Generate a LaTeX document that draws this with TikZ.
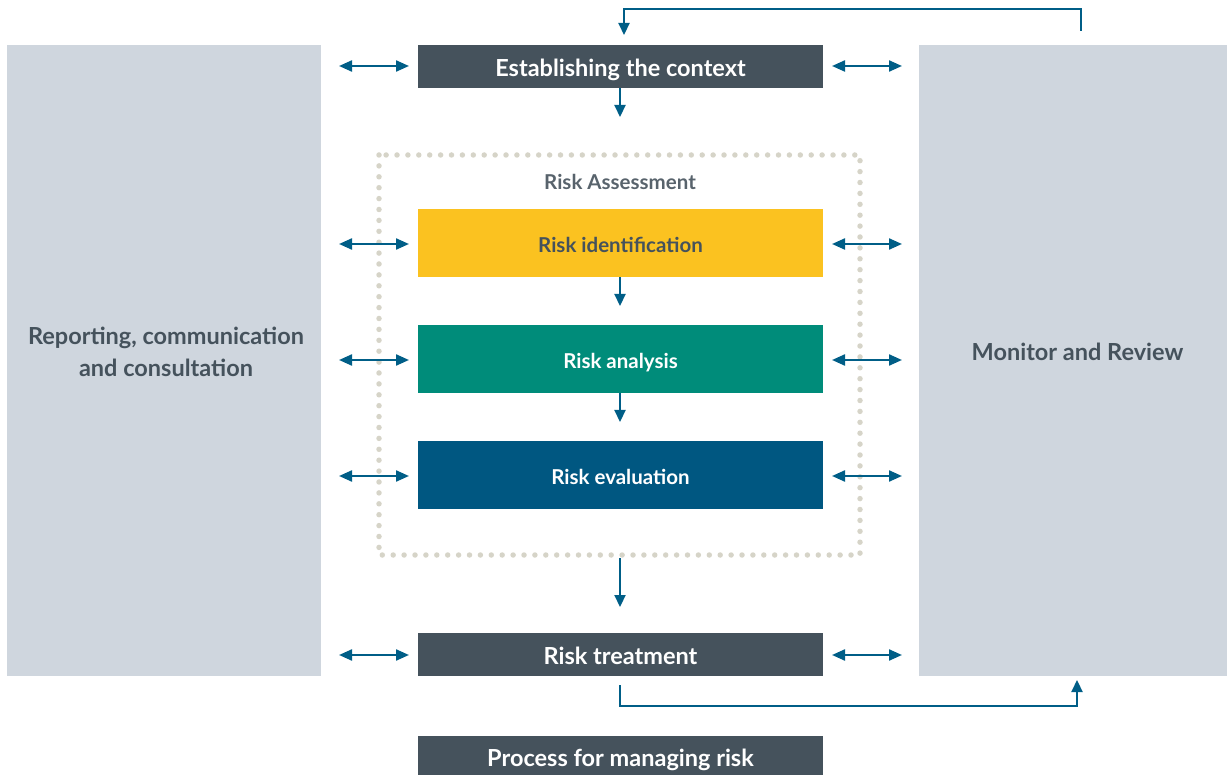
\documentclass[tikz,border=0pt]{standalone}
\usepackage{fontspec}
\setmainfont{Lato}
\usetikzlibrary{arrows.meta}
\definecolor{panel}{HTML}{CFD6DE}
\definecolor{darkbox}{HTML}{45525C}
\definecolor{yel}{HTML}{FBC220}
\definecolor{teal}{HTML}{008C7A}
\definecolor{navy}{HTML}{005781}
\definecolor{arr}{HTML}{005E87}
\definecolor{dotc}{HTML}{D6D4C8}
\definecolor{txtgray}{HTML}{45525C}
\tikzset{
  box/.style={minimum width=405pt, inner sep=0pt, text height=20pt, text depth=0pt, font=\fontsize{23.5}{26}\selectfont\bfseries, text=white},
  ibox/.style={box, minimum height=68pt, anchor=north, text height=18.5pt, font=\fontsize{20.5}{23}\selectfont\bfseries},
  panelbox/.style={fill=panel, draw=none, inner sep=0pt},
  sidetext/.style={font=\fontsize{23.5}{32}\selectfont\bfseries, text=txtgray, align=center},
  con/.style={draw=arr, line width=2.2pt, -{Triangle[length=12pt,width=11pt]}},
  dcon/.style={draw=arr, line width=2.2pt, {Triangle[length=13pt,width=11pt]}-{Triangle[length=13pt,width=11pt]}},
}
\begin{document}
\begin{tikzpicture}[x=1pt,y=-1pt]
\useasboundingbox (0,0) rectangle (1227,775);
% panels
\node[panelbox, minimum width=314pt, minimum height=631pt, anchor=north west] (left) at (7,45) {};
\node[panelbox, minimum width=308pt, minimum height=631pt, anchor=north west] (right) at (919,45) {};
\node[sidetext] (lefttxt) at (166,352) {Reporting, communication\\and consultation};
\node[sidetext] (righttxt) at (1077.5,352) {Monitor and Review};
% dotted frame
\draw[dotc, line width=5.5pt, line cap=round, dash pattern=on 0pt off 10.9pt] (379,155) rectangle (860,555);
\node[font=\fontsize{20.5}{22}\selectfont\bfseries, text=txtgray!90] (ra) at (620,182) {Risk Assessment};
% boxes
\node[box, fill=darkbox, minimum height=43pt, anchor=north] (ctx) at (620.5,45) {Establishing the context};
\node[ibox, fill=yel, text=txtgray] (ident) at (620.5,209) {Risk identification};
\node[ibox, fill=teal] (anal) at (620.5,325) {Risk analysis};
\node[ibox, fill=navy] (eval) at (620.5,441) {Risk evaluation};
\node[box, fill=darkbox, minimum height=43pt, anchor=north] (treat) at (620.5,633) {Risk treatment};
\node[box, fill=darkbox, minimum height=40pt, anchor=north] (proc) at (620.5,736) {Process for managing risk};
% vertical arrows
\coordinate (a1) at (620,117);
\coordinate (a2) at (620,306);
\coordinate (a3) at (620,422);
\coordinate (a4s) at (620,558);
\coordinate (a4e) at (620,607);
\draw[con] (ctx.south -| a1) -- (a1);
\draw[con] (ident.south -| a2) -- (a2);
\draw[con] (anal.south -| a3) -- (a3);
\draw[con] (a4s) -- (a4e);
% double arrows
\foreach \n/\y in {ctx/66, ident/244, anal/360, eval/476, treat/655}{
  \coordinate (L1\n) at (339,\y);
  \coordinate (L2\n) at (409,\y);
  \coordinate (R1\n) at (832,\y);
  \coordinate (R2\n) at (902,\y);
  \draw[dcon] (L1\n) -- (L2\n);
  \draw[dcon] (R1\n) -- (R2\n);
}
% loops
\coordinate (t1) at (1081,31);
\coordinate (t2) at (624,35);
\draw[con] (t1) -- (1081,9) -- (624,9) -- (t2);
\coordinate (b1) at (620,685);
\coordinate (b2) at (1077,680);
\draw[con] (b1) -- (620,706) -- (1077,706) -- (b2);
\end{tikzpicture}
\end{document}
